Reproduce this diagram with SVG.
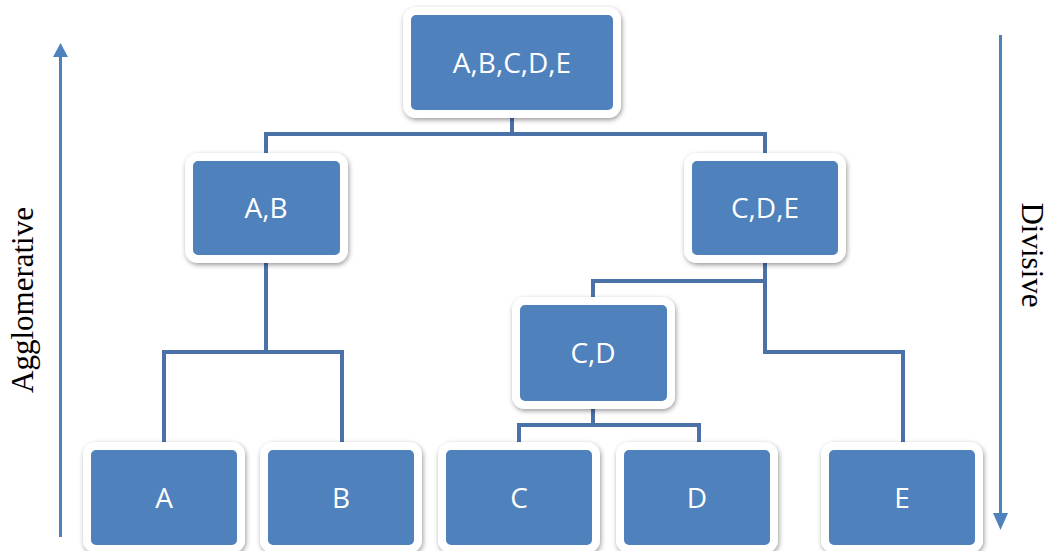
<svg xmlns="http://www.w3.org/2000/svg" width="1051" height="551" viewBox="0 0 1051 551">
  <defs>
    <filter id="sh" x="-10%" y="-10%" width="120%" height="130%">
      <feDropShadow dx="1" dy="2" stdDeviation="2.5" flood-color="#000" flood-opacity="0.4"/>
    </filter>
  </defs>
  <style>
    .box { fill: #4F81BD; stroke: #FFFFFF; stroke-width: 8; filter: url(#sh); }
    .lbl { font-family: "Open Sans", "Liberation Sans", sans-serif; font-size: 28px; fill: #FFFFFF; text-anchor: middle; }
    .conn { fill: none; stroke: #4A72A8; stroke-width: 4; stroke-linejoin: miter; }
    .side { font-family: "Liberation Serif", "Times New Roman", serif; font-size: 31px; fill: #000000; text-anchor: middle; }
    .arr { stroke: #4F81BD; stroke-width: 3; fill: none; }
    .head { fill: #4F81BD; }
  </style>
  <rect width="1051" height="551" fill="#FFFFFF"/>

  <g id="connectors">
    <path class="conn" d="M512,118 V134"/>
    <path class="conn" d="M266,153 V134 H765 V153"/>
    <path class="conn" d="M266,263 V352"/>
    <path class="conn" d="M164,442 V352 H342 V442"/>
    <path class="conn" d="M765,263 V352 H903 V442"/>
    <path class="conn" d="M593,297 V281 H765"/>
    <path class="conn" d="M593,409 V425"/>
    <path class="conn" d="M519,442 V425 H699 V442"/>
  </g>

  <g id="node-ABCDE">
    <rect class="box" x="407" y="11" width="210" height="103" rx="9"/>
    <text class="lbl" x="512" y="73">A,B,C,D,E</text>
  </g>
  <g id="node-AB">
    <rect class="box" x="189" y="157" width="155" height="102" rx="9"/>
    <text class="lbl" x="266" y="218">A,B</text>
  </g>
  <g id="node-CDE">
    <rect class="box" x="688" y="157" width="154" height="102" rx="9"/>
    <text class="lbl" x="765" y="218">C,D,E</text>
  </g>
  <g id="node-CD">
    <rect class="box" x="516" y="301" width="155" height="104" rx="9"/>
    <text class="lbl" x="593" y="363">C,D</text>
  </g>
  <g id="node-A">
    <rect class="box" x="87" y="446" width="154" height="103" rx="9"/>
    <text class="lbl" x="164" y="508">A</text>
  </g>
  <g id="node-B">
    <rect class="box" x="264" y="446" width="154" height="103" rx="9"/>
    <text class="lbl" x="341" y="508">B</text>
  </g>
  <g id="node-C">
    <rect class="box" x="442" y="446" width="154" height="103" rx="9"/>
    <text class="lbl" x="519" y="508">C</text>
  </g>
  <g id="node-D">
    <rect class="box" x="620" y="446" width="154" height="103" rx="9"/>
    <text class="lbl" x="697" y="508">D</text>
  </g>
  <g id="node-E">
    <rect class="box" x="825" y="446" width="154" height="103" rx="9"/>
    <text class="lbl" x="902" y="508">E</text>
  </g>

  <g id="agglomerative-arrow">
    <line class="arr" x1="60.5" y1="537" x2="60.5" y2="56"/>
    <polygon class="head" points="53,57 68,57 60.5,43"/>
    <text class="side" transform="translate(33,300) rotate(-90)">Agglomerative</text>
  </g>
  <g id="divisive-arrow">
    <line class="arr" x1="1000.5" y1="35" x2="1000.5" y2="514"/>
    <polygon class="head" points="993,513 1008,513 1000.5,530"/>
    <text class="side" transform="translate(1022,255) rotate(90)">Divisive</text>
  </g>
</svg>
